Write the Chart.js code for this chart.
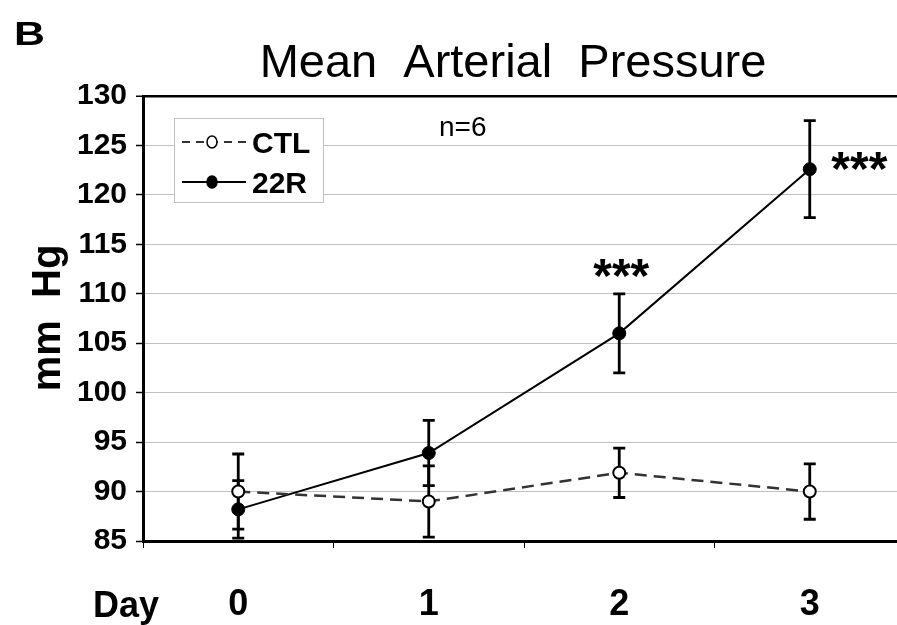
<!DOCTYPE html>
<html>
<head>
<meta charset="utf-8">
<script src="https://cdn.jsdelivr.net/npm/chart.js@4/dist/chart.umd.min.js"></script>
<style>
  html, body { margin: 0; padding: 0; background: #fff; overflow: hidden; }
</style>
</head>
<body>
<!-- the plot area runs a little past the right edge of the window, as in the figure -->
<canvas id="map-chart" width="913" height="625"></canvas>
<script>
// data
const days = ['0', '1', '2', '3'];
const ctlMean = [90.0, 89.0, 91.9, 90.0];
const ctlErr = [3.8, 3.6, 2.5, 2.8];
const r22Mean = [88.2, 93.9, 106.0, 122.6];
const r22Err = [2.9, 3.3, 4.0, 4.9];
const yTicks = [85, 90, 95, 100, 105, 110, 115, 120, 125, 130];

// significance marks: x position (category index), top of the stars (mm Hg)
const starX = [2, 3.25];
const starTop = [113.6, 124.4];

const FONT = "'Liberation Sans', Arial, sans-serif";

// -----------------------------------------------------------------
// error bars, drawn behind lines and markers
// -----------------------------------------------------------------
const errorBars = {
    id: 'errorBars',
    beforeDatasetsDraw(chart) {
        const ctx = chart.ctx;
        const x = chart.scales.x, y = chart.scales.y;
        const area = chart.chartArea;
        const sets = [[ctlMean, ctlErr], [r22Mean, r22Err]];
        ctx.save();
        ctx.beginPath();
        ctx.rect(area.left, area.top - 3, area.right - area.left, area.bottom - area.top + 3);
        ctx.clip();
        ctx.strokeStyle = '#000';
        ctx.lineWidth = 2.8;
        sets.forEach(([mean, err]) => {
            mean.forEach((m, i) => {
                const px = x.getPixelForValue(i);
                const hi = y.getPixelForValue(m + err[i]);
                const lo = y.getPixelForValue(m - err[i]);
                ctx.beginPath();
                ctx.moveTo(px, hi); ctx.lineTo(px, lo);
                ctx.moveTo(px - 6, hi); ctx.lineTo(px + 6, hi);
                ctx.moveTo(px - 6, lo); ctx.lineTo(px + 6, lo);
                ctx.stroke();
            });
        });
        ctx.restore();
    }
};

// -----------------------------------------------------------------
// texts, legend and stars
// -----------------------------------------------------------------
const annotations = {
    id: 'annotations',
    afterDraw(chart) {
        const ctx = chart.ctx;
        const x = chart.scales.x, y = chart.scales.y;
        ctx.save();
        ctx.fillStyle = '#000';
        ctx.textBaseline = 'alphabetic';

        // panel letter is a bit wider than the font in the figure
        ctx.save();
        ctx.translate(14, 45);
        ctx.scale(1.3, 1);
        ctx.font = 'bold 33px ' + FONT;
        ctx.textAlign = 'left';
        ctx.fillText('B', 0, 0);
        ctx.restore();

        ctx.font = '47px ' + FONT;
        ctx.textAlign = 'center';
        ctx.fillText('Mean  Arterial  Pressure', 513, 77);

        ctx.font = '28px ' + FONT;
        ctx.textAlign = 'left';
        ctx.fillText('n=6', 439, 136);

        ctx.font = 'bold 36px ' + FONT;
        ctx.textAlign = 'center';
        ctx.fillText('Day', 126, 617);

        // y axis title
        ctx.save();
        ctx.translate(60, 318);
        ctx.rotate(-Math.PI / 2);
        ctx.font = 'bold 40px ' + FONT;
        ctx.textAlign = 'center';
        ctx.fillText('mm  Hg', 0, 0);
        ctx.restore();

        // stars
        ctx.font = 'bold 48px ' + FONT;
        ctx.textAlign = 'center';
        starX.forEach((sx, i) => {
            ctx.fillText('***', x.getPixelForValue(sx) + 2, y.getPixelForValue(starTop[i]) + 34);
        });

        // legend box
        ctx.fillStyle = '#fff';
        ctx.fillRect(174, 118, 149, 84);
        ctx.strokeStyle = '#c0c0c0';
        ctx.lineWidth = 1;
        ctx.strokeRect(174.5, 118.5, 149, 84);

        const rows = [
            { label: 'CTL', y: 142, dash: [8, 6], color: '#333', fill: '#fff' },
            { label: '22R', y: 182, dash: [], color: '#000', fill: '#000' }
        ];
        rows.forEach(r => {
            ctx.strokeStyle = r.color;
            ctx.lineWidth = 2;
            ctx.setLineDash(r.dash);
            ctx.beginPath();
            ctx.moveTo(182, r.y); ctx.lineTo(246, r.y);
            ctx.stroke();
            ctx.setLineDash([]);
            ctx.beginPath();
            ctx.ellipse(212, r.y, 5, 6, 0, 0, Math.PI * 2);
            ctx.fillStyle = r.fill;
            ctx.fill();
            ctx.strokeStyle = '#000';
            ctx.lineWidth = 1.5;
            ctx.stroke();
            ctx.fillStyle = '#000';
            ctx.font = 'bold 30px ' + FONT;
            ctx.textAlign = 'left';
            ctx.fillText(r.label, 252, r.y + 11);
        });
        ctx.restore();
    }
};

new Chart(document.getElementById('map-chart'), {
    type: 'line',
    data: {
        labels: days,
        datasets: [
            {
                label: 'CTL',
                data: ctlMean,
                borderColor: '#333',
                borderWidth: 2.5,
                borderDash: [12, 7],
                pointRadius: 6,
                pointBackgroundColor: '#fff',
                pointBorderColor: '#000',
                pointBorderWidth: 2
            },
            {
                label: '22R',
                data: r22Mean,
                borderColor: '#000',
                borderWidth: 2,
                pointRadius: 6.5,
                pointBackgroundColor: '#000',
                pointBorderColor: '#000',
                pointBorderWidth: 1
            }
        ]
    },
    options: {
        responsive: false,
        animation: false,
        layout: { padding: { top: 96, left: 0, right: 0, bottom: 0 } },
        plugins: {
            legend: { display: false },
            title: { display: false },
            tooltip: { enabled: false }
        },
        scales: {
            x: {
                offset: true,
                grid: {
                    offset: true,
                    drawOnChartArea: false,
                    tickLength: 7,
                    tickColor: '#000'
                },
                border: { color: '#000', width: 3 },
                ticks: {
                    color: '#000',
                    font: { family: FONT, size: 36, weight: 'bold' },
                    padding: 35
                },
                afterFit(scale) { scale.height = 84; }
            },
            y: {
                min: 85,
                max: 130,
                afterBuildTicks(scale) { scale.ticks = yTicks.map(v => ({ value: v })); },
                grid: {
                    color: c => (c.tick && c.tick.value === 130 ? '#000' : '#c0c0c0'),
                    lineWidth: c => (c.tick && c.tick.value === 130 ? 2.5 : 1),
                    tickLength: 7,
                    tickColor: '#000',
                    tickWidth: 1.5
                },
                border: { color: '#000', width: 3 },
                ticks: {
                    color: '#000',
                    font: { family: FONT, size: 30, weight: 'bold' },
                    padding: 9
                },
                afterFit(scale) { scale.width = 143; }
            }
        }
    },
    plugins: [errorBars, annotations]
});
</script>
</body>
</html>
